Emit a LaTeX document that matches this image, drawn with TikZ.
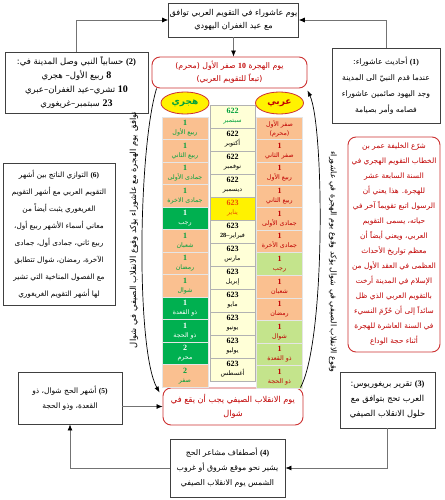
\documentclass[tikz,border=0pt]{standalone}
\usepackage{fontspec}
\setmainfont{Liberation Serif}
\newfontfamily\ar[Script=Arabic]{DejaVu Sans}
\newfontfamily\nm{Liberation Serif}
\TeXXeTstate=1
\usetikzlibrary{arrows.meta,shapes.geometric}
\newcommand\RL[1]{\beginR#1\endR}
\newcommand\NN[1]{{\nm\bfseries #1}}
\newcommand\PN[1]{\beginL{\nm\bfseries(#1)}\endL}
\newcommand\febtxt{{\nm\bfseries 28–}فبراير}
\definecolor{peach}{RGB}{250,192,144}
\definecolor{gcell}{RGB}{0,176,80}
\definecolor{lime}{RGB}{196,228,140}
\definecolor{pale}{RGB}{255,255,215}
\definecolor{dred}{RGB}{192,0,0}
\definecolor{hgreen}{RGB}{0,160,60}
\definecolor{redbd}{RGB}{205,50,50}
\definecolor{yred}{RGB}{235,80,0}
\begin{document}
\begin{tikzpicture}[x=1pt,y=-1pt,
 bx/.style={draw=black!75, line width=0.9pt, fill=white, align=center, inner sep=1pt, text=black},
 rbx/.style={draw=redbd, line width=0.9pt, rounded corners=8pt, fill=white, align=center, inner sep=1pt, text=dred},
 cell/.style={draw=white!80!gray, line width=0.5pt, inner sep=0pt, align=center, font=\ar\fontsize{6.3}{9}\selectfont},
 arr/.style={draw=black!55, line width=0.7pt, -{Latex[length=6pt,width=5pt,color=black]}},
 crv/.style={draw=black, line width=0.7pt, -{Latex[length=6pt,width=4.5pt]}},
 vtxt/.style={font=\ar\fontsize{8.4}{9}\selectfont, inner sep=0pt},
 ell/.style={ellipse, draw=redbd, line width=0.8pt, fill=yellow, minimum width=48, minimum height=22, inner sep=0pt, font=\ar\bfseries\fontsize{9}{9}\selectfont}
]
\useasboundingbox (0,0) rectangle (444,500);
\fill[white] (0,0) rectangle (444,500);

% boxes
\node[bx, minimum width=127, minimum height=34, font=\ar\fontsize{8.1}{13}\selectfont] (top) at (233.5,20)
 {\RL{يوم عاشوراء في التقويم العربي توافق}\\\RL{مع عيد الغفران اليهودي}};
\node[bx, minimum width=143, minimum height=61, font=\ar\fontsize{8.5}{14}\selectfont] (b2) at (76.5,82.5)
 {\RL{\PN{2} حسابياً النبي وصل المدينة في:}\\\RL{{\NN{\fontsize{10}{10}\selectfont 8}} ربيع الأول– هجري}\\\RL{{\NN{\fontsize{10}{10}\selectfont 10}} تشري–عيد الغفران–عبري}\\\RL{{\NN{\fontsize{10}{10}\selectfont 23}} سبتمبر–غريغوري}};
\node[bx, minimum width=108, minimum height=75, font=\ar\fontsize{7.7}{16}\selectfont] (b1) at (386,85.5)
 {\RL{\PN{1} أحاديث عاشوراء:}\\\RL{عندما قدم النبيّ الى المدينة}\\\RL{وجد اليهود صائمين عاشوراء}\\\RL{فصامه وأمر بصيامة}};
\node[rbx, minimum width=155, minimum height=31, font=\ar\fontsize{7.8}{13}\selectfont] (redtop) at (229.5,72.5)
 {\RL{يوم الهجرة \NN{10} صفر الأول (محرم)}\\\RL{(تبعاً للتقويم العربي)}};
\node[bx, minimum width=112, minimum height=142, font=\ar\fontsize{7.3}{17}\selectfont] (b6) at (59,234)
 {\RL{\PN{6} التوازي الناتج بين أشهر}\\\RL{التقويم العربي مع أشهر التقويم}\\\RL{الغريغوري يثبت أيضاً من}\\\RL{معاني أسماء الأشهر ربيع أول،}\\\RL{ربيع ثاني، جمادى أول، جمادى}\\\RL{الآخرة، رمضان، شوال تتطابق}\\\RL{مع الفصول المناخية التي تشير}\\\RL{لها أشهر التقويم الغريغوري}};
\node[rbx, minimum width=92, minimum height=215, font=\ar\fontsize{7.4}{15}\selectfont] (redright) at (394,244.5)
 {\RL{شرّع الخليفة عمر بن}\\\RL{الخطاب التقويم الهجري في}\\\RL{السنة السابعة عشر}\\\RL{للهجرة. هذا يعني أن}\\\RL{الرسول اتبع تقويماً آخر في}\\\RL{حياته، يسمى التقويم}\\\RL{العربي، ويعني أيضاً أن}\\\RL{معظم تواريخ الأحداث}\\\RL{العظمى في العقد الأول من}\\\RL{الإسلام في المدينة أرخت}\\\RL{بالتقويم العربي الذي ظل}\\\RL{سائداً إلى أن حُرِّمَ النسيء}\\\RL{في السنة العاشرة للهجرة}\\\RL{أثناء حجة الوداع}};
\node[bx, minimum width=104, minimum height=52, font=\ar\fontsize{7.5}{15}\selectfont] (b5) at (70,398)
 {\RL{\PN{5} أشهر الحج شوال، ذو}\\\RL{القعدة، وذو الحجة}};
\node[bx, minimum width=95, minimum height=56, font=\ar\fontsize{8.3}{15}\selectfont] (b3) at (387.5,400)
 {\RL{\PN{3} تقرير بريغوريوس:}\\\RL{العرب تحج بتوافق مع}\\\RL{حلول الانقلاب الصيفي}};
\node[rbx, minimum width=140, minimum height=37, font=\ar\fontsize{8.2}{14}\selectfont] (redbot) at (233,406.5)
 {\RL{يوم الانقلاب الصيفي يجب أن يقع في}\\\RL{شوال}};
\node[bx, minimum width=115, minimum height=58, font=\ar\fontsize{7.8}{15}\selectfont] (b4) at (227.5,468)
 {\RL{\PN{4} أصطفاف مشاعر الحج}\\\RL{يشير نحو موقع شروق أو غروب}\\\RL{الشمس يوم الانقلاب الصيفي}};

% table: hijri column
\foreach \n/\m/\f/\t [count=\k from 0] in {1/ربيع الأول/peach/hgreen, 1/ربيع الثاني/peach/hgreen, 1/جمادى الأولى/peach/hgreen, 1/جمادى الاخرة/peach/hgreen, 1/رجب/gcell/white, 1/شعبان/peach/hgreen, 1/رمضان/peach/hgreen, 1/شوال/peach/hgreen, 1/ذو القعدة/gcell/white, 1/ذو الحجة/gcell/white, 2/محرم/gcell/white, 2/صفر/peach/hgreen}
 \node[cell, minimum width=46, minimum height=22.5, fill=\f, text=\t] (L\k) at (185,{128.25+22.5*\k}) {\NN{\fontsize{8}{9}\selectfont\n}\\\RL{\m}};

% table: gregorian column
\foreach \n/\m/\f/\t [count=\k from 0] in {622/سبتمبر/pale/hgreen, 622/أكتوبر/pale/black, 622/نوفمبر/pale/black, 622/ديسمبر/pale/black, 623/يناير/yellow/yred, 623/\febtxt/pale/black, 623/مارس/pale/black, 623/إبريل/pale/black, 623/مايو/pale/black, 623/يونيو/pale/black, 623/يوليو/pale/black, 623/أغسطس/pale/black}
 \node[cell, draw=gray!60, minimum width=45, minimum height=23, fill=\f, text=\t] (M\k) at (232.5,{116.5+23*\k}) {\NN{\fontsize{8}{9}\selectfont\n}\\\m};

% table: arab column
\node[cell, minimum width=46, minimum height=22.6, fill=peach, text=dred] (R0) at (279.5,128.3) {\RL{صفر الأول}\\\RL{(محرم)}};
\foreach \m/\f [count=\k from 1] in {صفر الثاني/peach, ربيع الأول/peach, ربيع الثاني/peach, جمادى الأولى/peach, جمادى الأخرة/peach, رجب/lime, شعبان/peach, رمضان/peach, شوال/lime, ذو القعدة/lime, ذو الحجة/lime}
 \node[cell, minimum width=46, minimum height=22.6, fill=\f, text=dred] (R\k) at (279.5,{128.3+22.6*\k}) {\NN{\fontsize{8}{9}\selectfont 1}\\\RL{\m}};

\node[ell, text=hgreen] (hij) at (185,103) {\RL{هجري}};
\node[ell, text=dred] (arb) at (279.5,103) {\RL{عربي}};

% vertical texts
\node[vtxt, rotate=90] (vl) at (134,230) {\RL{توافق يوم الهجرة مع عاشوراء يؤكد وقوع الانقلاب الصيفي في شوال}};
\node[vtxt, rotate=-90, font=\ar\fontsize{7.9}{9}\selectfont] (vr) at (333,262) {\RL{وقوع الانقلاب الصيفي في شوال يؤكد وقوع يوم الهجرة في عاشوراء}};

% connectors
\draw[arr] (b2.north) |- (top.west);
\draw[arr] (b1.north) |- (top.east);
\draw[arr] (top.south) -- (top.south |- redtop.north);
\draw[arr] (b3.south) |- (b4.east);
\draw[arr] (b4.west) -| (b5.south);
\draw[arr] (b5.east |- redbot.west) -- (redbot.west);

% curves
\draw[crv] ([xshift=5]redtop.south west) .. controls (138,150) and (136,350) .. ([shift={(-3,5)}]redbot.north west);
\draw[crv] ([xshift=-3]redbot.north east) .. controls (326,340) and (324,125) .. ([shift={(0,2)}]redtop.south east);
\end{tikzpicture}
\end{document}
